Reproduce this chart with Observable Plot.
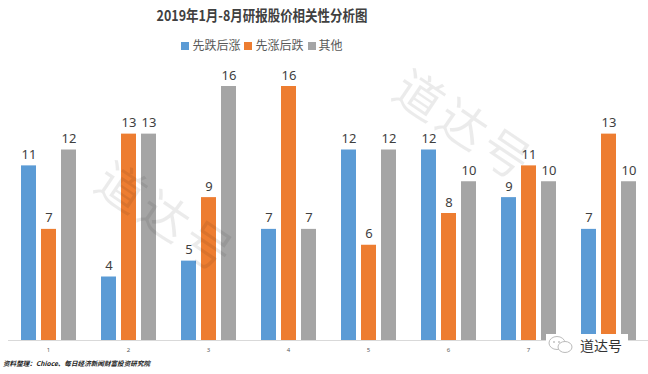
<!DOCTYPE html>
<html>
<head>
<meta charset="utf-8">
<script src="https://cdn.jsdelivr.net/npm/d3@7"></script>
<script src="https://cdn.jsdelivr.net/npm/@observablehq/plot@0.6"></script>
<style>
  html, body { margin: 0; padding: 0; background: #fff; }
  #page { position: relative; width: 648px; height: 374px; overflow: hidden; background: #fff;
          font-family: "Noto Sans CJK SC", "Noto Sans", sans-serif; }
  #title { position: absolute; top: 4px; left: 0; width: 524px; text-align: center;
           font-size: 14.5px; font-weight: bold; color: #404040; transform: scaleX(0.86); transform-origin: 262px 0; }
  #legend { position: absolute; top: 36px; left: 0; width: 524px; text-align: center;
            font-size: 12px; color: #595959; }
  #legend .item { display: inline-block; margin: 0 2px; }
  #legend .sw { display: inline-block; width: 8px; height: 8px; margin-right: 3px; vertical-align: 0px; }
  #chart { position: absolute; top: 60px; left: 0; }
  #caption { position: absolute; top: 358px; left: 3px; font-size: 6.6px; font-weight: bold;
             font-style: italic; color: #222; }
  .wm { position: absolute; font-size: 48px; color: rgba(0,0,0,0.08); white-space: nowrap;
        transform-origin: center center; pointer-events: none; letter-spacing: 4px; }
  #logo { position: absolute; left: 546px; top: 334px; height: 22px; display: flex; align-items: center;
          font-size: 14px; color: #333; background: #fff; padding-right: 6px; }
</style>
</head>
<body>
<div id="page">
  <div id="title"></div>
  <div id="legend"></div>
  <div id="chart"></div>
  <div id="caption"></div>
  <div class="wm" id="wm1">道达号</div>
  <div class="wm" id="wm2">道达号</div>
  <div id="logo"><svg width="34" height="22" viewBox="0 0 34 22"><ellipse cx="11" cy="9" rx="8" ry="6.5" fill="none" stroke="#bbb" stroke-width="1"/><ellipse cx="19" cy="13" rx="7" ry="5.5" fill="#fff" stroke="#bbb" stroke-width="1"/><circle cx="8" cy="8" r="0.9" fill="#bbb"/><circle cx="13" cy="8" r="0.9" fill="#bbb"/></svg><span>道达号</span></div>
</div>
<script>
const titleText = "2019年1月-8月研报股价相关性分析图";
const captionText = "资料整理：Chioce、每日经济新闻财富投资研究院";
const months = [1, 2, 3, 4, 5, 6, 7, 8];
const seriesNames = ["先跌后涨", "先涨后跌", "其他"];
const seriesColors = ["#5B9BD5", "#ED7D31", "#A5A5A5"];
const downThenUp = [11, 4, 5, 7, 12, 12, 9, 7];
const upThenDown = [7, 13, 9, 16, 6, 8, 11, 13];
const others = [12, 13, 16, 7, 12, 10, 10, 10];

const seriesValues = [downThenUp, upThenDown, others];
const data = [];
months.forEach((m, i) => {
  seriesNames.forEach((s, j) => {
    data.push({month: m, series: s, value: seriesValues[j][i]});
  });
});

document.getElementById("title").textContent = titleText;
document.getElementById("caption").textContent = captionText;
const legend = document.getElementById("legend");
seriesNames.forEach((s, j) => {
  const item = document.createElement("span");
  item.className = "item";
  item.innerHTML = `<span class="sw" style="background:${seriesColors[j]}"></span>${s}`;
  legend.appendChild(item);
});

const wm1 = document.getElementById("wm1");
wm1.style.left = (473 - 85) + "px"; wm1.style.top = (123 - 35) + "px";
wm1.style.transform = "rotate(34deg)";
const wm2 = document.getElementById("wm2");
wm2.style.left = (175 - 85) + "px"; wm2.style.top = (215 - 35) + "px";
wm2.style.transform = "rotate(34deg)";

const chart = Plot.plot({
  width: 648,
  height: 296,
  marginTop: 26,
  marginBottom: 16,
  marginLeft: 8,
  marginRight: 0,
  style: {fontFamily: "'Noto Sans', 'Noto Sans CJK SC', sans-serif", background: "transparent"},
  fx: {domain: months, padding: 0, label: null},
  x: {domain: seriesNames, paddingInner: 0.25, paddingOuter: 0.625, axis: null},
  y: {domain: [0, 16], axis: null},
  color: {domain: seriesNames, range: seriesColors},
  marks: [
    Plot.barY(data, {fx: "month", x: "series", y: "value", fill: "series"}),
    Plot.ruleY([0], {stroke: "#d9d9d9", strokeWidth: 1}),
    Plot.text(data, {fx: "month", x: "series", y: "value", text: d => String(d.value),
      dy: -7, lineAnchor: "bottom", fontSize: 13, fill: "#404040"}),
    Plot.axisFx({anchor: "bottom", tickSize: 0, tickPadding: 7, fontSize: 6, color: "#595959", label: null})
  ]
});
document.getElementById("chart").appendChild(chart);
</script>
</body>
</html>
